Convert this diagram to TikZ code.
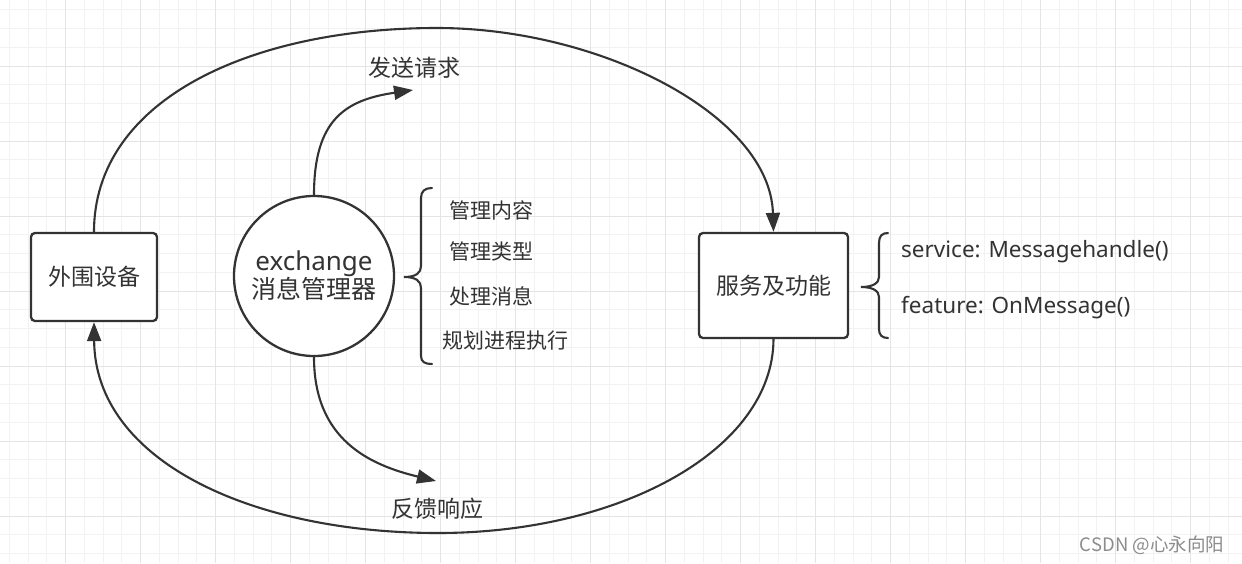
\documentclass[tikz,border=0pt]{standalone}
\usepackage{fontspec}
\setmainfont{Noto Sans CJK SC}
\newfontfamily\latinf{Noto Sans}
\usetikzlibrary{arrows.meta}
\definecolor{ink}{HTML}{333333}
\definecolor{gminorc}{HTML}{F2F2F2}
\definecolor{gmajorc}{HTML}{E4E4E4}
\definecolor{wmark}{HTML}{8C8C8C}
\tikzset{
  gminor/.style={draw=gminorc, line width=1pt},
  gmajor/.style={draw=gmajorc, line width=1pt},
  conn/.style={draw=ink, line width=2.1pt},
  arr/.style={-{Triangle[length=19pt,width=14pt]}},
  boxnode/.style={draw=ink, line width=2.3pt, rounded corners=4pt, fill=white, inner sep=0pt, text=ink,
                  font=\fontsize{23pt}{27pt}\selectfont},
  lbl/.style={text=ink, inner sep=0pt, font=\fontsize{23pt}{27pt}\selectfont},
  item/.style={text=ink, inner sep=0pt, anchor=west, font=\fontsize{21pt}{25pt}\selectfont},
  fitem/.style={text=ink, inner sep=0pt, anchor=west, font=\fontsize{22.5pt}{26pt}\latinf},
  brace/.style={draw=ink, line width=2.1pt, line cap=round},
}
\begin{document}
\begin{tikzpicture}[x=1pt,y=-1pt]
\fill[white] (0,0) rectangle (1242,563);
\useasboundingbox (0,0) rectangle (1242,563);
% grid
\foreach \i in {0,...,67} {
  \pgfmathsetmacro\gx{-9.5+18.75*\i}
  \draw[gminor] (\gx,0) -- (\gx,563);
}
\foreach \i in {0,...,31} {
  \pgfmathsetmacro\gy{-9+18.75*\i}
  \draw[gminor] (0,\gy) -- (1242,\gy);
}
\foreach \i in {0,...,17} {
  \pgfmathsetmacro\gx{-9.5+75*\i}
  \draw[gmajor] (\gx,0) -- (\gx,563);
}
\foreach \i in {0,...,8} {
  \pgfmathsetmacro\gy{-9+75*\i}
  \draw[gmajor] (0,\gy) -- (1242,\gy);
}
% nodes
\node[boxnode, minimum width=126pt, minimum height=88pt] (dev) at (94,277) {外围设备};
\node[boxnode, minimum width=149pt, minimum height=105pt] (srv) at (773.5,285.5) {服务及功能};
\node[draw=ink, line width=2.3pt, circle, fill=white, minimum size=160pt, inner sep=0pt, text=ink,
      align=center, font=\fontsize{25pt}{30pt}\selectfont] (ex) at (314,276)
      {{\fontsize{26pt}{30pt}\latinf exchange}\\[-2pt]消息管理器};
\node[lbl] (send) at (414,68) {发送请求};
\node[lbl] (back) at (437,509) {反馈响应};
\node[item] (i1) at (449,210) {管理内容};
\node[item] (i2) at (449,251) {管理类型};
\node[item] (i3) at (449,296) {处理消息};
\node[item] (i4) at (442,341) {规划进程执行};
\node[fitem] (f1) at (901,252) {service: Messagehandle()};
\node[fitem] (f2) at (901,308) {feature: OnMessage()};
\node[text=wmark, inner sep=0pt, font=\fontsize{18.5pt}{21pt}\selectfont] (wm) at (1152,545) {CSDN @心永向阳};
% connectors
\coordinate (toppeak) at (437,28);
\coordinate (botlow) at (438,533);
\draw[conn, arr] (dev.north) .. controls (94,100) and (250,28) .. (toppeak)
   .. controls (600,28) and (770,115) .. (srv.north);
\draw[conn, arr] (srv.south) .. controls (773,450) and (620,533) .. (botlow)
   .. controls (250,533) and (95,460) .. (dev.south);
\coordinate (sendtip) at (413,90);
\coordinate (backtip) at (436,481);
\draw[conn, arr] (ex.north) .. controls (314,120) and (345,100) .. (sendtip);
\draw[conn, arr] (ex.south) .. controls (314,440) and (370,465) .. (backtip);
% braces
\draw[brace] (432,188) .. controls (425,188) and (421,191) .. (421,198) -- (421,266)
  .. controls (421,273) and (416,277) .. (404,277)
  .. controls (416,277) and (421,281) .. (421,288) -- (421,356)
  .. controls (421,362) and (425,364) .. (432,364);
\draw[brace] (888,233) .. controls (882,233) and (879,236) .. (879,243) -- (879,277)
  .. controls (879,283) and (873,287) .. (861,287)
  .. controls (873,287) and (879,291) .. (879,297) -- (879,329)
  .. controls (879,335) and (882,338) .. (888,338);
\end{tikzpicture}
\end{document}
